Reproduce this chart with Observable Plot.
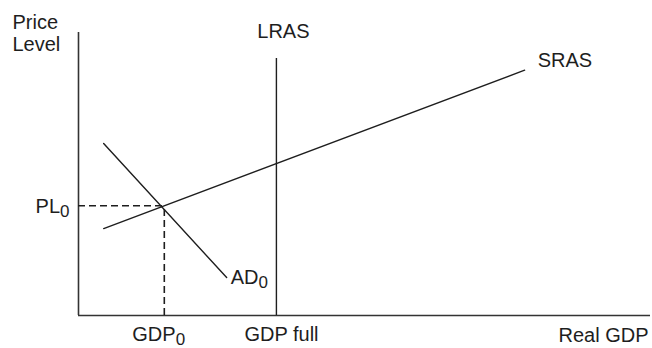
<!DOCTYPE html>
<html><head><meta charset="utf-8">
<script src="https://cdn.jsdelivr.net/npm/d3@7"></script>
<script src="https://cdn.jsdelivr.net/npm/@observablehq/plot@0.6"></script>
<style>html,body{margin:0;padding:0;background:#fff}</style>
</head><body><div id="chart"></div>
<script>
// Real GDP (x) and Price Level (y), both in 0–100 index units
const gdp0 = 15;
const gdpFull = 34.6;
const pl0 = 38.8;
const adX = [4.4, 25.9];
const adY = [60.8, 13.4];
const srasX = [4.4, 78];
const srasY = [30.7, 86.7];
const lrasY = [0, 90.8];
const curveNames = ["LRAS", "SRAS", "AD_0"];
const tickValues = [gdp0, gdpFull];
const tickLabels = ["GDP_0", "GDP full"];
const pl0Label = "PL_0";
const xTitle = "Real GDP";
const yTitle = "Price\nLevel";

const ad = adX.map((x, i) => ({x, y: adY[i]}));
const sras = srasX.map((x, i) => ({x, y: srasY[i]}));
const ticks = tickLabels.map((label, i) => ({label, x: tickValues[i]}));
const ink = "#1e1e1e";
const font = "'Liberation Sans', Arial, Helvetica, sans-serif";

const chart = Plot.plot({
  width: 652, height: 348,
  marginLeft: 78, marginRight: 2, marginTop: 32, marginBottom: 33,
  x: {domain: [0, 100], axis: null},
  y: {domain: [0, 100], axis: null},
  style: {fontFamily: font, color: ink, background: "#fff"},
  marks: [
    Plot.ruleX([0], {stroke: "#333", strokeWidth: 1.6}),
    Plot.ruleY([0], {stroke: "#333", strokeWidth: 1.6}),
    Plot.ruleX([gdpFull], {y1: lrasY[0], y2: lrasY[1], stroke: ink, strokeWidth: 1.4}),
    Plot.line(sras, {x: "x", y: "y", stroke: ink, strokeWidth: 1.4}),
    Plot.line(ad, {x: "x", y: "y", stroke: ink, strokeWidth: 1.4}),
    Plot.ruleY([pl0], {x1: 0, x2: gdp0, stroke: ink, strokeWidth: 1.6, strokeDasharray: "7,4"}),
    Plot.ruleX([gdp0], {y1: 0, y2: pl0, stroke: ink, strokeWidth: 1.6, strokeDasharray: "7,4"}),
    // curve labels
    Plot.text([{t: curveNames[0], x: gdpFull, y: lrasY[1]}], {x: "x", y: "y", text: "t", textAnchor: "middle", lineAnchor: "bottom", dx: 7, dy: -21, fontSize: 20, fill: ink}),
    Plot.text([{t: curveNames[1], x: srasX[1], y: srasY[1]}], {x: "x", y: "y", text: "t", textAnchor: "start", lineAnchor: "bottom", dx: 13, dy: -3.5, fontSize: 20, fill: ink}),
    Plot.text([{t: curveNames[2], x: adX[1], y: adY[1]}], {x: "x", y: "y", text: "t", textAnchor: "start", lineAnchor: "bottom", dx: 4, dy: 6, fontSize: 20, fill: ink}),
    // x tick labels
    Plot.text(ticks, {x: "x", text: "label", frameAnchor: "bottom", textAnchor: "start", lineAnchor: "bottom", dx: -32, dy: 25, fontSize: 20, fill: ink}),
    // PL0 label
    Plot.text([{t: pl0Label, y: pl0}], {y: "y", text: "t", frameAnchor: "left", textAnchor: "end", lineAnchor: "bottom", dx: -9, dy: 7, fontSize: 20, fill: ink}),
    // axis titles
    Plot.text([xTitle], {frameAnchor: "bottom-right", textAnchor: "end", lineAnchor: "bottom", dx: -2, dy: 26, fontSize: 20, fill: ink}),
    Plot.text([yTitle], {frameAnchor: "top-left", textAnchor: "start", lineAnchor: "bottom", lineHeight: 1.1, dx: -66, dy: 18, fontSize: 20, fill: ink})
  ]
});

// render "_0" as a subscript
const ns = "http://www.w3.org/2000/svg";
chart.querySelectorAll("text").forEach(t => {
  const s = t.textContent;
  if (t.children.length === 0 && s.includes("_")) {
    const [a, b] = s.split("_");
    t.textContent = "";
    const t1 = document.createElementNS(ns, "tspan");
    t1.textContent = a;
    const t2 = document.createElementNS(ns, "tspan");
    t2.textContent = b;
    t2.setAttribute("dy", "4");
    t2.setAttribute("font-size", "17");
    t.append(t1, t2);
  }
});

document.getElementById("chart").append(chart);
</script>
</body></html>
